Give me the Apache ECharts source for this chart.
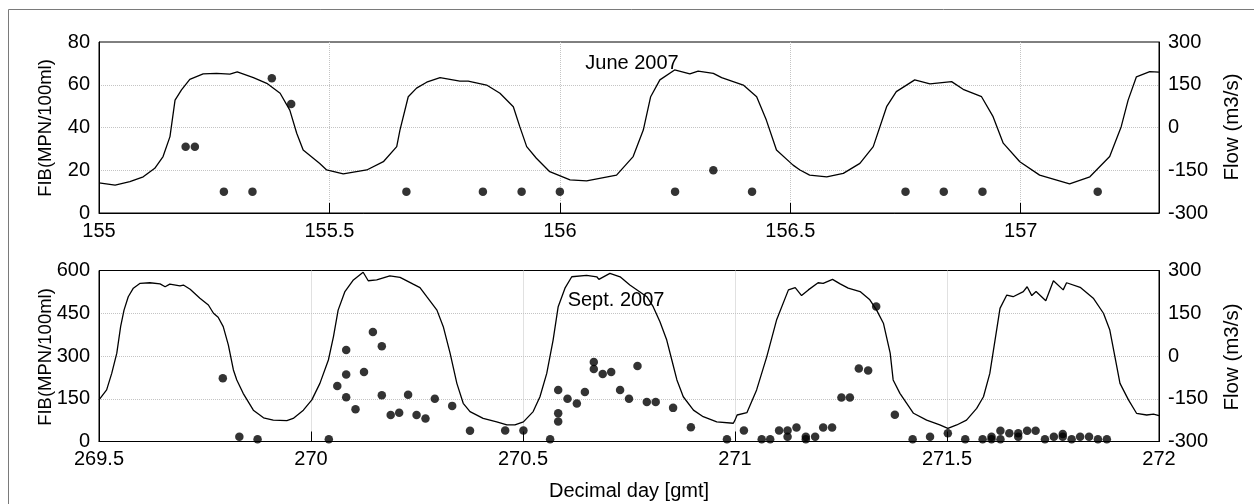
<!DOCTYPE html>
<html>
<head>
<meta charset="utf-8">
<script src="https://cdn.jsdelivr.net/npm/echarts@6/dist/echarts.min.js"></script>
<style>
  html, body { margin: 0; padding: 0; background: #fff; }
  #chart { width: 1254px; height: 504px; }
</style>
</head>
<body>
<div id="chart"></div>
<script>
// June 2007: tidal flow (m3/s) against decimal day
const juneFlowDay = [155.000,155.035,155.067,155.096,155.121,155.139,155.154,155.165,155.179,155.197,
  155.226,155.255,155.284,155.300,155.335,155.364,155.393,155.414,155.429,155.443,155.479,155.494,
  155.530,155.581,155.617,155.646,155.653,155.671,155.689,155.711,155.740,155.783,155.801,155.841,
  155.870,155.899,155.913,155.928,155.949,155.978,156.022,156.058,156.123,156.159,156.181,156.197,
  156.217,156.249,156.282,156.300,156.333,156.351,156.398,156.427,156.448,156.470,156.506,156.521,
  156.542,156.579,156.615,156.651,156.680,156.709,156.730,156.770,156.803,156.850,156.875,156.915,
  156.940,156.962,156.998,157.041,157.106,157.150,157.193,157.218,157.233,157.251,157.280,157.300];
const juneFlow = [-194,-202,-190,-173,-143,-102,-32,96,132,169,
  188,190,187,195,175,155,120,61,-20,-79,-126,-149,
  -163,-149,-120,-67,-9,108,138,159,175,163,163,149,
  120,73,3,-67,-108,-155,-184,-187,-167,-102,-9,108,
  167,202,188,198,190,175,149,108,26,-79,-132,-149,
  -167,-173,-161,-126,-67,73,126,167,153,161,134,108,
  38,-55,-120,-167,-198,-173,-102,3,96,178,196,194];

// June 2007: FIB samples (MPN/100ml)
const juneFibDay = [155.188,155.208,155.271,155.333,155.375,155.417,155.667,155.833,155.917,156.000,
  156.250,156.333,156.417,156.750,156.833,156.917,157.167];
const juneFib = [31,31,10,10,63,51,10,10,10,10,10,20,10,10,10,10,10];

// Sept. 2007: tidal flow (m3/s)
const septFlowDay = [269.500,269.518,269.530,269.542,269.551,269.559,269.569,269.581,269.597,269.620,
  269.644,269.656,269.667,269.691,269.699,269.715,269.738,269.758,269.770,269.781,269.793,269.805,
  269.817,269.825,269.840,269.864,269.888,269.911,269.943,269.958,269.982,270.002,270.021,270.041,
  270.053,270.064,270.080,270.100,270.123,270.135,270.155,270.186,270.210,270.241,270.257,270.273,
  270.297,270.312,270.328,270.344,270.359,270.375,270.406,270.438,270.462,270.481,270.501,270.524,
  270.540,270.556,270.571,270.583,270.599,270.615,270.650,270.674,270.679,270.705,270.729,270.752,
  270.792,270.807,270.823,270.839,270.851,270.863,270.878,270.902,270.925,270.957,270.996,271.000,
  271.005,271.028,271.051,271.075,271.098,271.126,271.142,271.157,271.173,271.196,271.208,271.230,
  271.248,271.267,271.295,271.318,271.334,271.350,271.366,271.373,271.389,271.421,271.452,271.483,
  271.502,271.523,271.546,271.570,271.586,271.601,271.617,271.625,271.641,271.656,271.680,271.689,
  271.700,271.710,271.733,271.751,271.774,271.782,271.814,271.845,271.869,271.884,271.896,271.908,
  271.928,271.947,271.971,271.987,272.000];
const septFlow = [-154,-119,-61,10,103,161,208,238,255,257,
  253,243,252,246,249,234,203,179,150,136,103,39,
  -49,-84,-131,-190,-217,-225,-227,-219,-190,-154,-96,-14,
  68,161,226,267,294,264,267,281,276,252,240,208,
  161,103,10,-96,-166,-195,-219,-231,-242,-242,-231,-195,
  -143,-61,56,173,238,278,283,278,269,290,278,249,
  208,173,120,56,-14,-84,-143,-190,-213,-231,-236,-225,
  -207,-199,-119,-2,126,232,240,212,232,257,255,269,
  253,238,226,197,161,115,10,-84,-131,-201,-225,-242,
  -254,-242,-225,-184,-143,-61,91,167,214,208,226,243,
  212,226,194,264,232,257,241,203,150,91,-2,-96,
  -154,-201,-207,-204,-209];

// Sept. 2007: FIB samples (MPN/100ml)
const septFibDay = [269.792,269.831,269.874,270.042,270.062,270.083,270.083,270.083,270.105,270.125,
  270.146,270.167,270.167,270.188,270.208,270.229,270.249,270.270,270.292,270.333,270.375,270.458,
  270.501,270.564,270.583,270.583,270.583,270.605,270.627,270.646,270.667,270.667,270.688,270.708,
  270.729,270.750,270.770,270.792,270.813,270.854,270.896,270.981,271.021,271.063,271.083,271.104,
  271.124,271.124,271.145,271.167,271.167,271.189,271.208,271.229,271.251,271.271,271.292,271.314,
  271.333,271.377,271.419,271.460,271.502,271.543,271.584,271.605,271.605,271.626,271.626,271.647,
  271.668,271.668,271.689,271.709,271.731,271.752,271.773,271.773,271.794,271.814,271.835,271.856,
  271.877];
const septFib = [222,17,8,8,195,321,235,155,113,244,
  384,334,162,93,101,164,93,81,150,125,38,39,
  39,8,70,99,181,150,133,174,279,254,237,244,
  181,150,265,139,139,118,50,8,39,8,8,39,
  39,17,49,17,8,17,49,49,154,154,256,249,
  474,94,8,17,29,8,8,17,8,38,8,29,
  29,17,38,38,8,17,26,17,8,17,17,8,
  8];

// Axis tick values
const juneDayTicks = { min: 155, max: 157.3, step: 0.5 };
const septDayTicks = { min: 269.5, max: 272, step: 0.5 };
const juneFibTicks = { min: 0, max: 80, step: 20 };
const septFibTicks = { min: 0, max: 600, step: 150 };
const flowTicks = { min: -300, max: 300, step: 150 };

const pairs = (xs, ys) => xs.map((x, i) => [x, ys[i]]);

const FONT = 'Liberation Sans, Arial, sans-serif';
const gridLine = { show: true, showMinLine: false, showMaxLine: false,
  lineStyle: { color: '#c4c4c4', type: 'dotted', width: 1 } };
const blackLine = { show: true, lineStyle: { color: '#000', width: 1 } };
const label = { color: '#000', fontSize: 20, fontFamily: FONT };

function dayAxis(gridIndex, t) {
  return {
    type: 'value', gridIndex, min: t.min, max: t.max, interval: t.step,
    axisLine: blackLine,
    axisTick: { show: true, inside: true, length: 10, lineStyle: { color: '#000' } },
    axisLabel: Object.assign({ margin: 8, showMaxLabel: t.max % t.step === 0 }, label),
    splitLine: gridLine
  };
}
function leftAxis(gridIndex, t) {
  return {
    type: 'value', gridIndex, position: 'left', min: t.min, max: t.max, interval: t.step,
    axisLine: blackLine, axisTick: { show: false },
    axisLabel: Object.assign({ margin: 9 }, label),
    splitLine: gridLine
  };
}
function rightAxis(gridIndex, t) {
  return {
    type: 'value', gridIndex, position: 'right', min: t.min, max: t.max, interval: t.step,
    axisLine: blackLine, axisTick: { show: false },
    axisLabel: Object.assign({ margin: 9 }, label),
    splitLine: { show: false }
  };
}

function text(str, x, y, size, rot) {
  return {
    type: 'text', x, y, rotation: rot || 0,
    style: { text: str, fill: '#000', font: size + 'px ' + FONT, textAlign: 'center', textVerticalAlign: 'middle' },
    z: 10
  };
}

const chart = echarts.init(document.getElementById('chart'), null, { renderer: 'canvas' });
chart.setOption({
  animation: false,
  backgroundColor: '#fff',
  grid: [
    { left: 99, top: 42, width: 1060, height: 171, show: true, borderColor: '#000', borderWidth: 1 },
    { left: 99, top: 270.5, width: 1060, height: 171, show: true, borderColor: '#000', borderWidth: 1 }
  ],
  xAxis: [dayAxis(0, juneDayTicks), dayAxis(1, septDayTicks)],
  yAxis: [
    leftAxis(0, juneFibTicks), rightAxis(0, flowTicks),
    leftAxis(1, septFibTicks), rightAxis(1, flowTicks)
  ],
  series: [
    { type: 'line', xAxisIndex: 0, yAxisIndex: 1, data: pairs(juneFlowDay, juneFlow),
      showSymbol: false, lineStyle: { color: '#000', width: 1.3 }, z: 2 },
    { type: 'scatter', xAxisIndex: 0, yAxisIndex: 0, data: pairs(juneFibDay, juneFib),
      symbol: 'circle', symbolSize: 8.5, itemStyle: { color: '#000' }, z: 3 },
    { type: 'line', xAxisIndex: 1, yAxisIndex: 3, data: pairs(septFlowDay, septFlow),
      showSymbol: false, lineStyle: { color: '#000', width: 1.3 }, z: 2 },
    { type: 'scatter', xAxisIndex: 1, yAxisIndex: 2, data: pairs(septFibDay, septFib),
      symbol: 'circle', symbolSize: 8.5, itemStyle: { color: '#000' }, z: 3 }
  ],
  graphic: [
    { type: 'rect', shape: { x: 8.5, y: 9.5, width: 1300, height: 600 },
      style: { fill: 'none', stroke: '#7a7a7a', lineWidth: 1 }, silent: true },
    text('June 2007', 632, 63, 20),
    text('Sept. 2007', 616, 300, 20),
    text('Decimal day [gmt]', 629, 491, 20),
    text('FIB(MPN/100ml)', 46, 128, 18.5, Math.PI / 2),
    text('FIB(MPN/100ml)', 46, 357, 18.5, Math.PI / 2),
    text('Flow (m3/s)', 1232, 127, 20.5, Math.PI / 2),
    text('Flow (m3/s)', 1232, 357, 20.5, Math.PI / 2)
  ]
});
</script>
</body>
</html>
